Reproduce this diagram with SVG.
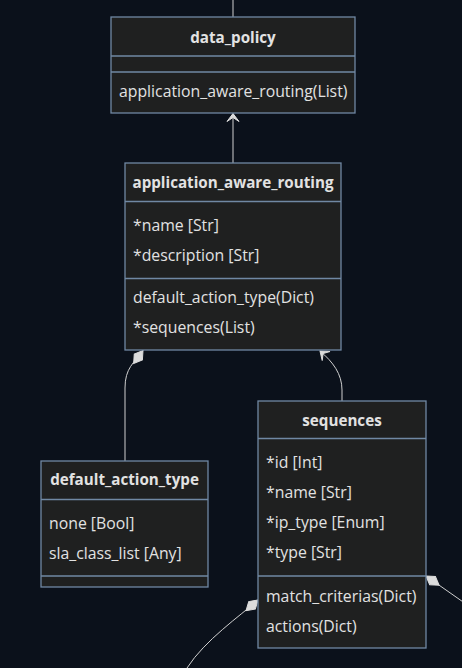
<svg xmlns="http://www.w3.org/2000/svg" width="462" height="668" viewBox="0 0 462 668">
<defs>
<style>
.box{fill:#1f2020;stroke:#7088a3;stroke-width:1.3}
.div{stroke:#7088a3;stroke-width:1.3}
.t{font-family:"Open Sans","Noto Sans",sans-serif;font-size:15.8px;fill:#e2e2e2}
.h{font-weight:bold;font-size:15.2px;text-anchor:middle}
.edge{fill:none;stroke:#d0d0d0;stroke-width:1}
</style>
<marker id="comp" viewBox="0 0 18 14" refX="1" refY="7" markerWidth="18" markerHeight="14" markerUnits="userSpaceOnUse" orient="auto">
<path d="M1,7 L9,2 L17,7 L9,12 Z" fill="#dcdcdc" stroke="#dcdcdc" stroke-width="1"/>
</marker>
<marker id="dep" viewBox="0 0 10 14" refX="1" refY="7" markerWidth="10" markerHeight="14" markerUnits="userSpaceOnUse" orient="auto">
<path d="M5,7 L9,13 L1,7 L9,1 Z" fill="#dcdcdc" stroke="#dcdcdc" stroke-width="1"/>
</marker>
</defs>
<rect width="462" height="668" fill="#0b111b"/>
<g id="connectors">
<path class="edge" d="M233,0 L233,17"/>
<path class="edge" d="M233,113.5 L233,163" marker-start="url(#dep)"/>
<path class="edge" d="M143,350.5 C134,363 125,368 125,388 L125,461" marker-start="url(#comp)"/>
<path class="edge" d="M320,351 C333,362 342,374 342,390 L342,401" marker-start="url(#dep)"/>
<path class="edge" d="M258,600 C240,616 205,640 187,668" marker-start="url(#comp)"/>
<path class="edge" d="M426,576 L466,604" marker-start="url(#comp)"/>
</g>
<g id="data_policy">
<rect class="box" x="111" y="17" width="244" height="96"/>
<line class="div" x1="111" y1="56" x2="355" y2="56"/>
<line class="div" x1="111" y1="72" x2="355" y2="72"/>
<text class="t h" x="233" y="43">data_policy</text>
<text class="t" x="119" y="97">application_aware_routing(List)</text>
</g>
<g id="application_aware_routing">
<rect class="box" x="125" y="163" width="216" height="187"/>
<line class="div" x1="125" y1="201.5" x2="341" y2="201.5"/>
<line class="div" x1="125" y1="278.5" x2="341" y2="278.5"/>
<text class="t h" x="233" y="188">application_aware_routing</text>
<text class="t" x="133" y="231">*name [Str]</text>
<text class="t" x="133" y="261">*description [Str]</text>
<text class="t" x="133" y="303">default_action_type(Dict)</text>
<text class="t" x="133" y="333">*sequences(List)</text>
</g>
<g id="default_action_type">
<rect class="box" x="41" y="461" width="167" height="126"/>
<line class="div" x1="41" y1="499.5" x2="208" y2="499.5"/>
<line class="div" x1="41" y1="576" x2="208" y2="576"/>
<text class="t h" x="124.5" y="485">default_action_type</text>
<text class="t" x="49" y="529">none [Bool]</text>
<text class="t" x="49" y="559">sla_class_list [Any]</text>
</g>
<g id="sequences">
<rect class="box" x="258" y="401" width="168" height="247"/>
<line class="div" x1="258" y1="438.5" x2="426" y2="438.5"/>
<line class="div" x1="258" y1="576" x2="426" y2="576"/>
<text class="t h" x="342" y="426">sequences</text>
<text class="t" x="266" y="468">*id [Int]</text>
<text class="t" x="266" y="498">*name [Str]</text>
<text class="t" x="266" y="528">*ip_type [Enum]</text>
<text class="t" x="266" y="558">*type [Str]</text>
<text class="t" x="266" y="602">match_criterias(Dict)</text>
<text class="t" x="266" y="632">actions(Dict)</text>
</g>
</svg>
